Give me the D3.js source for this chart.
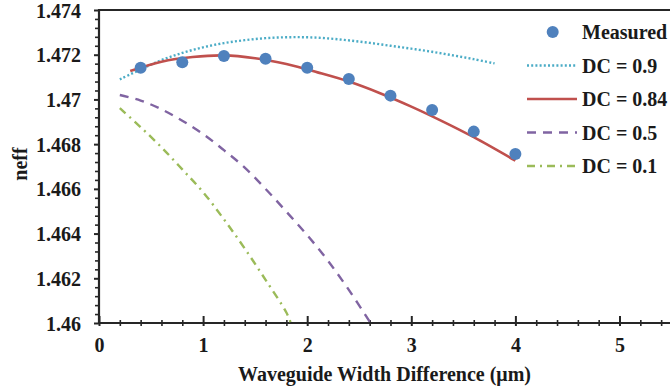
<!DOCTYPE html>
<html><head><meta charset="utf-8">
<script src="https://cdn.jsdelivr.net/npm/d3@7"></script>
<style>
body{margin:0;background:#fff}
svg{display:block}
text{font-family:"Liberation Serif","Times New Roman",serif;font-weight:bold;fill:#1a1a1a}
</style>
</head><body>
<svg id="c" width="670" height="392"></svg>
<script>
// ---- data ----
const measuredX = [0.4, 0.8, 1.2, 1.6, 2.0, 2.4, 2.8, 3.2, 3.6, 4.0];
const measuredY = [1.47142, 1.47166, 1.47194, 1.47182, 1.47142, 1.47091, 1.47017, 1.46953, 1.46856, 1.46756];

const dc09X = [0.2, 0.4, 0.6, 0.8, 1.0, 1.2, 1.4, 1.6, 1.8, 2.0, 2.2, 2.4, 2.6, 2.8, 3.0, 3.2, 3.4, 3.6, 3.8];
const dc09Y = [1.47090, 1.47134, 1.47176, 1.47208, 1.47233, 1.47252, 1.47265, 1.47274, 1.47278, 1.47278, 1.47273, 1.47264, 1.47253, 1.47240, 1.47227, 1.47213, 1.47197, 1.47180, 1.47161];

const dc084X = [0.3, 0.6, 0.9, 1.2, 1.5, 1.8, 2.1, 2.4, 2.7, 3.0, 3.3, 3.6, 4.0];
const dc084Y = [1.47127, 1.47169, 1.47190, 1.47197, 1.47184, 1.47158, 1.47121, 1.47080, 1.47028, 1.46968, 1.46902, 1.46831, 1.46726];

const dc05X = [0.2, 0.4, 0.6, 0.8, 1.0, 1.2, 1.4, 1.6, 1.8, 2.0, 2.2, 2.4, 2.6];
const dc05Y = [1.47020, 1.46995, 1.46956, 1.46905, 1.46845, 1.46773, 1.46695, 1.46600, 1.46498, 1.46393, 1.46278, 1.46148, 1.46006];

const dc01X = [0.2, 0.4, 0.6, 0.8, 1.0, 1.2, 1.4, 1.6, 1.8, 1.84];
const dc01Y = [1.46961, 1.46876, 1.46786, 1.46687, 1.46585, 1.46464, 1.46333, 1.46193, 1.46047, 1.46003];

const xMajorTicks = [0, 1, 2, 3, 4, 5];
const xTickLabels = ["0", "1", "2", "3", "4", "5"];
const yMajorTicks = [1.46, 1.462, 1.464, 1.466, 1.468, 1.47, 1.472, 1.474];
const yTickLabels = ["1.46", "1.462", "1.464", "1.466", "1.468", "1.47", "1.472", "1.474"];
const legendLabels = ["Measured", "DC = 0.9", "DC = 0.84", "DC = 0.5", "DC = 0.1"];
const xTitle = "Waveguide Width Difference (\u03bcm)";
const yTitle = "neff";

// ---- layout ----
const svg = d3.select("#c");
const X0 = 99, Y0 = 10, Y1 = 323, PXU = 104.1;
const x = d3.scaleLinear().domain([0, 5.5]).range([X0, X0 + 5.5 * PXU]);
const y = d3.scaleLinear().domain([1.46, 1.474]).range([Y1, Y0]);
const ink = "#262626";

const defs = svg.append("defs");
defs.append("clipPath").attr("id", "plot").append("rect")
  .attr("x", X0).attr("y", Y0).attr("width", 5.5 * PXU).attr("height", Y1 - Y0);

// minor ticks
const xMinor = d3.range(0, 5.5001, 0.2).map(v => +v.toFixed(2)).filter(v => !xMajorTicks.includes(v));
const yMinor = d3.range(1.46, 1.4740001, 0.0004).map(v => +v.toFixed(4)).filter(v => !yMajorTicks.some(t => Math.abs(t - v) < 1e-7));

// x axis
const gx = svg.append("g").attr("transform", `translate(0,${Y1})`);
gx.call(d3.axisBottom(x).tickValues(xMajorTicks).tickFormat((d, i) => xTickLabels[i]).tickSize(3).tickPadding(0));
gx.select(".domain").remove();
gx.selectAll(".tick line").attr("y1", -7).attr("y2", 3).attr("stroke", ink).attr("stroke-width", 2);
gx.selectAll(".tick text").attr("y", 29).attr("dy", 0).style("font-size", "20px").style("fill", "#1a1a1a");
const gxm = svg.append("g").attr("transform", `translate(0,${Y1})`);
gxm.call(d3.axisBottom(x).tickValues(xMinor).tickFormat(""));
gxm.select(".domain").remove();
gxm.selectAll(".tick line").attr("y1", -3).attr("y2", 3).attr("stroke", ink).attr("stroke-width", 1.6);
svg.append("line").attr("x1", X0 - 1).attr("x2", 672).attr("y1", Y1).attr("y2", Y1).attr("stroke", ink).attr("stroke-width", 2.2);

// y axis
const gy = svg.append("g").attr("transform", `translate(${X0},0)`);
gy.call(d3.axisLeft(y).tickValues(yMajorTicks).tickFormat((d, i) => yTickLabels[i]).tickSize(5).tickPadding(0));
gy.select(".domain").remove();
gy.selectAll(".tick line").attr("stroke", ink).attr("stroke-width", 2);
gy.selectAll(".tick text").attr("x", -18).attr("dy", "0.35em").style("font-size", "20px").style("fill", "#1a1a1a");
const gym = svg.append("g").attr("transform", `translate(${X0},0)`);
gym.call(d3.axisLeft(y).tickValues(yMinor).tickFormat("").tickSize(4));
gym.select(".domain").remove();
gym.selectAll(".tick line").attr("stroke", ink).attr("stroke-width", 1.6);
svg.append("line").attr("x1", X0).attr("x2", X0).attr("y1", Y0 - 1).attr("y2", Y1 + 1).attr("stroke", ink).attr("stroke-width", 2.2);
// top border
svg.append("line").attr("x1", X0 - 1).attr("x2", 672).attr("y1", Y0).attr("y2", Y0).attr("stroke", ink).attr("stroke-width", 2);

// titles
svg.append("text").attr("x", 384.5).attr("y", 381).attr("text-anchor", "middle").style("font-size", "20px").text(xTitle);
svg.append("text").attr("transform", "translate(27,164) rotate(-90)").attr("text-anchor", "middle").style("font-size", "20px").text(yTitle);

// series
const series = [
  {xs: dc09X, ys: dc09Y, color: "#4bacc6", dash: "2,2.2", w: 2.4},
  {xs: dc084X, ys: dc084Y, color: "#c0504d", dash: null, w: 2.6},
  {xs: dc05X, ys: dc05Y, color: "#8064a2", dash: "9,7", w: 2.4},
  {xs: dc01X, ys: dc01Y, color: "#9bbb59", dash: "8,5,2,5", w: 2.4}
];
const line = d3.line().x(d => x(d[0])).y(d => y(d[1])).curve(d3.curveCatmullRom.alpha(0.5));
const gl = svg.append("g").attr("clip-path", "url(#plot)");
series.forEach(s => {
  gl.append("path").datum(s.xs.map((v, i) => [v, s.ys[i]]))
    .attr("d", line).attr("fill", "none").attr("stroke", s.color)
    .attr("stroke-width", s.w).attr("stroke-dasharray", s.dash);
});

// measured points
svg.append("g").selectAll("circle").data(measuredX.map((v, i) => [v, measuredY[i]])).join("circle")
  .attr("cx", d => x(d[0])).attr("cy", d => y(d[1])).attr("r", 6).attr("fill", "#4f81bd");

// legend
const legY = [32, 65.5, 99, 132.5, 166];
const lg = svg.append("g");
lg.append("circle").attr("cx", 552.7).attr("cy", legY[0]).attr("r", 6).attr("fill", "#4f81bd");
series.forEach((s, i) => {
  lg.append("line").attr("x1", 527).attr("x2", 577).attr("y1", legY[i + 1]).attr("y2", legY[i + 1])
    .attr("stroke", s.color).attr("stroke-width", s.w).attr("stroke-dasharray", s.dash);
});
legendLabels.forEach((t, i) => {
  lg.append("text").attr("x", 582).attr("y", legY[i]).attr("dy", "0.35em").style("font-size", "20px").text(t);
});
</script>
</body></html>
